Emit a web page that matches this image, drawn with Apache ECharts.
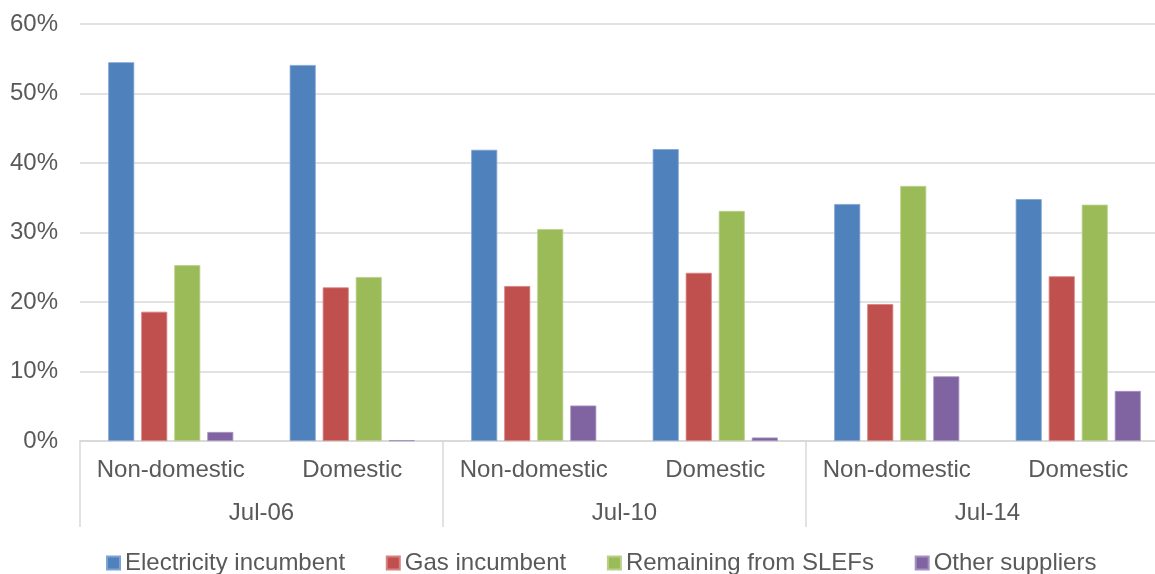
<!DOCTYPE html>
<html>
<head>
<meta charset="utf-8">
<script src="https://cdn.jsdelivr.net/npm/echarts@6/dist/echarts.min.js"></script>
<style>
html,body{margin:0;padding:0;background:#fff;overflow:hidden;width:1155px;height:574px;}
#chart{width:1169px;height:574px;}
</style>
</head>
<body>
<div id="chart"></div>
<script>
const segments = ['Non-domestic','Domestic','Non-domestic','Domestic','Non-domestic','Domestic'];
const periods = ['Jul-06','Jul-10','Jul-14'];
const seriesNames = ['Electricity incumbent','Gas incumbent','Remaining from SLEFs','Other suppliers'];
const electricityIncumbent = [54.5, 54.1, 41.9, 42.0, 34.1, 34.8];
const gasIncumbent = [18.6, 22.1, 22.3, 24.2, 19.7, 23.7];
const remainingFromSLEFs = [25.3, 23.6, 30.5, 33.1, 36.7, 34.0];
const otherSuppliers = [1.3, 0.1, 5.1, 0.5, 9.3, 7.2];
const yTicks = [0, 10, 20, 30, 40, 50, 60];

const colors = ['#4F81BD','#C0504D','#9BBB59','#8064A2'];
const borders = ['#7FA3D3','#D6827F','#B9D08A','#A590C0'];
const textColor = '#595959';
const font = "'Liberation Sans', Arial, sans-serif";
const values = [electricityIncumbent, gasIncumbent, remainingFromSLEFs, otherSuppliers];

const chart = echarts.init(document.getElementById('chart'));
chart.setOption({
  animation: false,
  color: colors,
  textStyle: {fontFamily: font},
  grid: {left: 80, top: 24, width: 1089, height: 417, containLabel: false},
  legend: {
    data: seriesNames,
    left: 106,
    top: 551,
    padding: 0,
    icon: 'rect',
    itemWidth: 13,
    itemHeight: 13,
    itemGap: 40.7,
    textStyle: {color: textColor, fontSize: 24, fontFamily: font}
  },
  xAxis: [
    {
      type: 'category',
      data: segments,
      position: 'bottom',
      axisLine: {show: true, lineStyle: {color: '#D9D9D9', width: 2}},
      axisTick: {show: false},
      axisLabel: {color: textColor, fontSize: 24, fontFamily: font, margin: 17, interval: 0}
    },
    {
      type: 'category',
      data: periods,
      position: 'bottom',
      gridIndex: 0,
      axisLine: {show: false},
      axisTick: {show: true, length: 86, lineStyle: {color: '#D9D9D9', width: 1.5}},
      axisLabel: {color: textColor, fontSize: 24, fontFamily: font, margin: 60, interval: 0},
      splitLine: {show: false}
    }
  ],
  yAxis: {
    type: 'value',
    min: yTicks[0],
    max: yTicks[yTicks.length - 1],
    interval: yTicks[1] - yTicks[0],
    axisLine: {show: false},
    axisTick: {show: false},
    axisLabel: {color: textColor, fontSize: 24, fontFamily: font, margin: 22, padding: [4,0,0,0], formatter: '{value}%'},
    splitLine: {lineStyle: {color: '#D9D9D9', width: 1.5}}
  },
  series: seriesNames.map((name, i) => ({
    name: name,
    type: 'bar',
    xAxisIndex: 0,
    data: values[i],
    barWidth: 26,
    barGap: '27%',
    itemStyle: {color: colors[i], borderColor: borders[i], borderWidth: 0.8}
  }))
});
</script>
</body>
</html>
